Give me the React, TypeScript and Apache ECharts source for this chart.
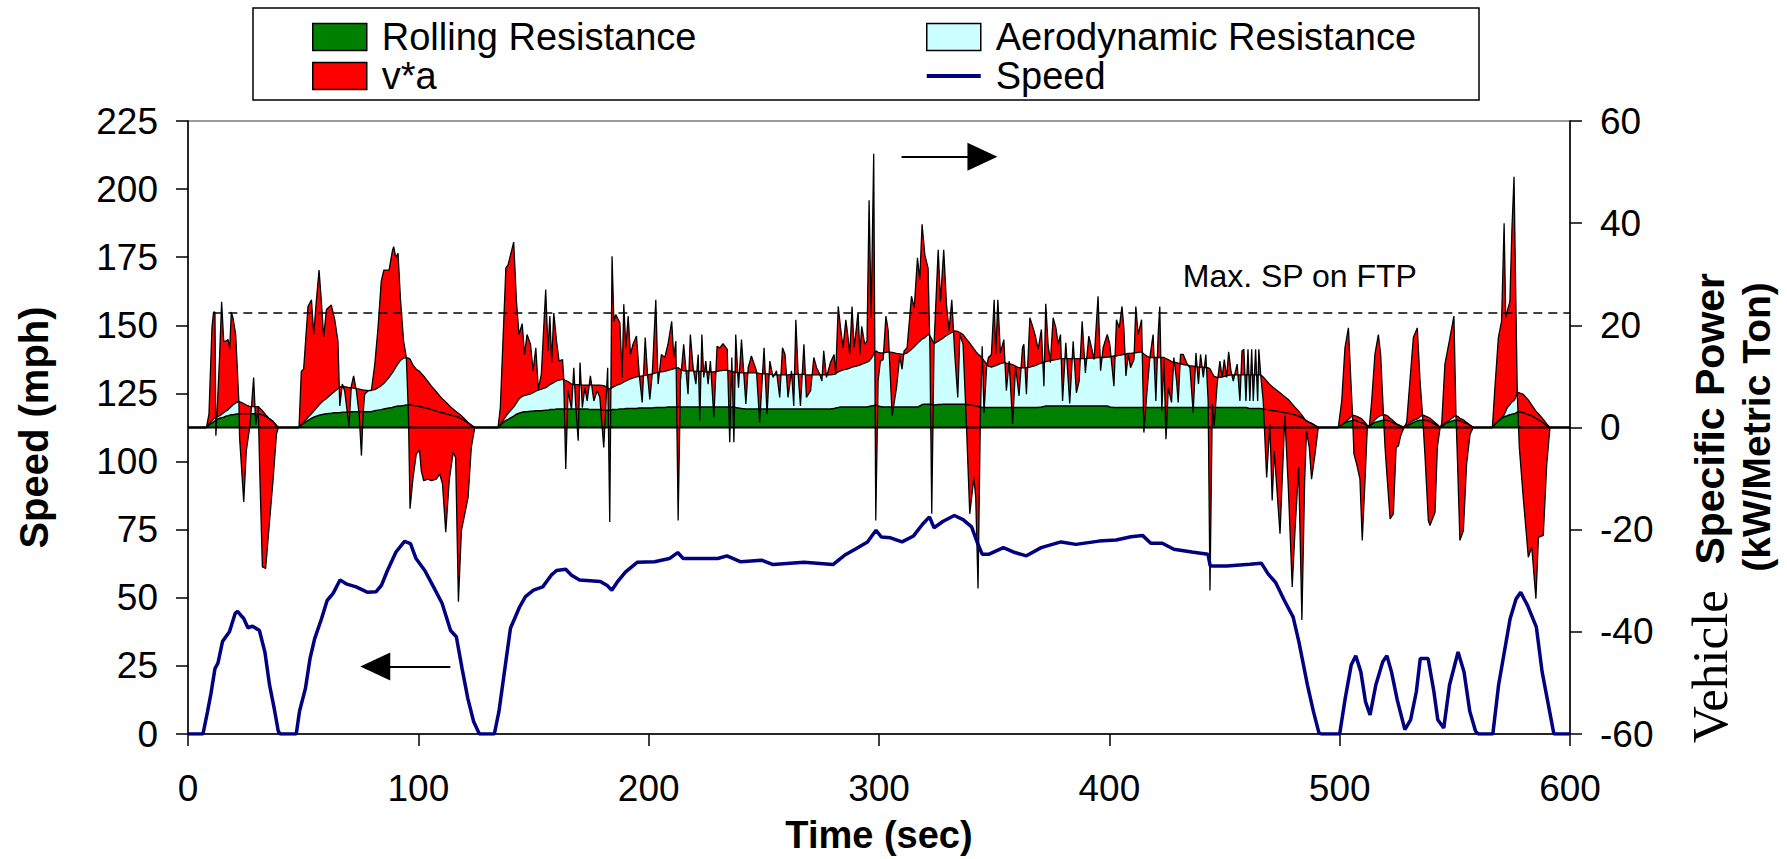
import React, { useEffect, useRef } from "react";
import * as echarts from "echarts";

// ---- Speed trace (mph) ----
const speedTime = [
  0, 6.5, 8.5, 10, 11.7, 13, 15, 18, 20.5, 21.5,
  23, 24.2, 26, 28, 31, 33.4, 35.4, 37.4, 39.2, 40,
  47, 48.4, 51, 53, 55, 58, 60.4, 63, 66, 69,
  73, 78, 81.6, 84, 86.6, 90.3, 94, 96.6, 99, 102.8,
  106.6, 110.3, 114, 116.5, 119, 121.5, 124, 126.5, 133, 135,
  137.8, 140, 144, 146.5, 150, 154, 157.7, 160, 164, 166.5,
  170, 179, 182, 184, 186.4, 190, 195, 202.6, 209, 212.6,
  215, 230, 234, 240, 249, 254, 267.5, 280, 285, 290,
  295, 298.7, 301, 305, 310, 315, 318.9, 321.9, 323.9, 327.7,
  332.7, 336.5, 340.2, 342.7, 344.8, 347.8, 354, 359, 364, 370.4,
  379, 385.5, 395.5, 403, 409.4, 414.4, 418, 423, 428, 435.8,
  442.8, 443.8, 451, 461, 466, 469, 472.2, 476, 479.8, 482.3,
  486, 488.6, 491, 492, 500, 502.4, 505, 507, 509.2, 511.2,
  513.2, 515.7, 518.7, 520.5, 522.5, 525, 528.3, 530.8, 533.3, 535,
  538.4, 540.9, 542.6, 545.2, 547.7, 551.4, 554, 556.5, 559, 560.2,
  566.5, 569, 572, 574, 576.6, 578.6, 581.6, 585.4, 587.9, 591.7,
  593, 600,
];
const speedMph = [
  0, 0, 8.3, 15, 24, 26, 34, 37.5, 44.3, 45,
  43.5, 42.4, 39, 39.6, 38, 30, 18, 9.5, 1, 0,
  0, 8.3, 16.8, 27.8, 35, 42.4, 49, 51.6, 56.5, 55,
  54, 52, 52.2, 54.6, 60, 66.8, 70.7, 69.9, 64.4, 60,
  54, 48, 38, 35.7, 24, 13, 4.6, 0, 0, 8.3,
  25.4, 38.8, 46.7, 50.4, 52.8, 54, 58.3, 60, 60.5, 58.3,
  56.5, 56, 54.5, 52.8, 55.8, 59.5, 63, 63.2, 64.4, 66.6,
  64.4, 64.4, 65.4, 63.2, 63.8, 62.2, 63, 62.2, 65.6, 68,
  70.5, 74.8, 72.3, 72, 70.5, 72.7, 77, 79.7, 75.7, 78,
  80.2, 78.7, 76, 70.2, 66, 66, 68.4, 66.6, 65.4, 68.4,
  70.5, 69.6, 70.8, 71.2, 72.4, 72.9, 70, 70, 67.8, 66.8,
  66, 61.7, 61.7, 62.3, 62.7, 58.7, 55.6, 49, 42.9, 33.8,
  18, 8.3, 0.4, 0, 0, 13, 25.3, 28.7, 22.8, 11.9,
  7, 18, 26.5, 28.7, 22.8, 12.5, 1.6, 5.2, 15.6, 27.7,
  27.7, 15.6, 5.2, 2.2, 18, 30.1, 22.8, 8.3, 1, 0,
  0, 18, 32.6, 42.3, 49.6, 52, 47.1, 39.2, 22.8, 5.8,
  0, 0,
];

// ---- Vehicle specific power (kW/metric ton) ----
const vspTime = [
  0, 8, 9.1, 10.4, 11.1, 11.7, 12.1, 12.6, 13.75, 14.6,
  15.5, 16.4, 17.4, 18.1, 18.8, 19.5, 20.7, 22.1, 22.4, 24.2,
  25.3, 27, 28.5, 29.4, 30.5, 31.1, 32.3, 33.7, 35.2, 36.9,
  38.4, 39.2, 48.2, 49.2, 50.2, 52.1, 53.6, 54.6, 55.7, 56.9,
  57.9, 58.9, 60.1, 62.2, 63.7, 65.1, 65.9, 67, 68, 69.9,
  70.9, 71.9, 73.1, 74.3, 75.3, 76, 76.7, 78.2, 79.6, 81.1,
  82.5, 83.9, 85, 87.3, 88.7, 89.3, 90.2, 91.2, 92.2, 93.6,
  94.8, 95.7, 96.4, 97.7, 99.1, 100.5, 101.3, 102.3, 104.2, 105.7,
  107.8, 109.3, 110.5, 111.9, 113.4, 115.1, 116.2, 117.4, 118.7, 121.6,
  123, 124.5, 134.6, 135.6, 138, 139, 141.4, 142.6, 143.7, 145.1,
  146.1, 147.2, 148.7, 149.8, 151, 152.1, 153.4, 155.3, 156.3, 157.1,
  157.9, 158.8, 160, 161.1, 162.6, 163.1, 164, 165, 166.5, 167.5,
  168.3, 169.4, 170.2, 171.2, 172.3, 173.3, 174.7, 176.2, 177.6, 178.8,
  180.5, 182.2, 183.1, 184.1, 184.9, 185.7, 187.5, 188.5, 189.2, 190.1,
  191.1, 192.1, 193.2, 194.7, 195.9, 197.2, 198.5, 199.5, 200.5, 201.6,
  203.1, 204.1, 205.5, 207, 208.4, 210, 210.9, 211.8, 212.8, 213.8,
  215.2, 217.1, 218.1, 219.3, 220.5, 221.5, 222.2, 223.1, 223.9, 224.8,
  225.8, 226.8, 228.3, 229.7, 230.9, 232.3, 234.1, 235.2, 236.1, 237,
  237.8, 239, 240.3, 242.2, 243.2, 244.6, 246.8, 248.2, 250.1, 251.4,
  252.6, 254, 255.5, 256.9, 258.1, 259.2, 260.5, 262, 263, 263.9,
  264.9, 265.9, 267.4, 268.5, 270.3, 271.7, 272.9, 274.3, 275.2, 276,
  277.2, 278.9, 280.5, 281.2, 282.3, 283.3, 284.4, 285.6, 286.5, 287.3,
  288.3, 289.2, 290.2, 290.9, 291.7, 292.5, 293.8, 294.8, 295.7, 296.6,
  297.7, 298.6, 299.6, 300.6, 301.8, 303, 304, 305.7, 307.6, 309,
  310, 310.9, 312.2, 314.1, 315.3, 316.7, 317.7, 318.7, 319.9, 321.3,
  322.1, 322.9, 323.9, 325.7, 326.7, 328.1, 329.3, 330.4, 331.6, 332.9,
  334.2, 335.1, 336.5, 338, 339.4, 341.2, 342, 343, 344, 344.8,
  345.6, 346.7, 347.5, 348.8, 350, 350.7, 351.6, 352.7, 354.2, 355.3,
  356.5, 358, 359.3, 360.8, 362.3, 362.9, 364, 365.5, 366.9, 367.9,
  369.1, 370.5, 371.6, 372.4, 373.4, 374.4, 375.6, 376.8, 377.8, 378.8,
  379.7, 381.1, 382.8, 384.3, 385.7, 386.9, 388.2, 389.6, 391.1, 392.3,
  393.4, 395.1, 396.2, 397.3, 399.1, 400.2, 402, 403.1, 404.3, 405.5,
  406.3, 407.2, 408.2, 409.2, 410.7, 411.5, 412.5, 414, 415, 416.2,
  417.6, 419, 420.2, 421.2, 421.9, 422.8, 423.7, 424.6, 425.6, 427,
  428, 429.2, 429.9, 430.9, 432.1, 433.8, 435, 436.4, 437.6, 438.7,
  439.6, 440.8, 441.9, 442.9, 443.7, 444.7, 445.5, 446.8, 448, 449,
  449.9, 450.9, 451.8, 452.8, 453.8, 455.5, 456.7, 457.6, 458.4, 459.3,
  460.2, 461, 461.8, 462.5, 463.5, 464.4, 464.9, 465.7, 466.8, 468.3,
  469.7, 470.7, 471.6, 474.1, 476.2, 477.7, 479.4, 480.6, 482.2, 483.6,
  484.8, 485.6, 486.8, 487.8, 489.3, 490.7, 499.4, 500.9, 502.3, 503.8,
  504.8, 505.6, 506.2, 507.4, 508.8, 509.8, 511, 512, 512.9, 513.9,
  515.3, 516.8, 517.8, 519, 519.7, 520.7, 521.9, 523.3, 524.5, 525.5,
  526.5, 527.9, 529.1, 530.5, 532, 533.7, 534.9, 536, 537, 538.5,
  539.2, 541.4, 542.4, 543.6, 544.3, 545.7, 547.6, 549.6, 550.5, 551.2,
  552.2, 553.7, 555.1, 556.6, 558, 566.3, 567.4, 568.9, 570.3, 571.4,
  572.1, 572.8, 573.9, 574.8, 575.7, 576.4, 577.1, 578, 579.7, 581.9,
  583.4, 585.2, 586.3, 588.4, 589.9, 591.3, 600,
];
// top of the rolling-resistance band
const rollingTop = [
  0, 0, 0.5, 0.9, 1.1, 1.3, 1.5, 1.6, 1.8, 1.9,
  2.0, 2.2, 2.3, 2.4, 2.5, 2.5, 2.6, 2.7, 2.7, 2.7,
  2.7, 2.7, 2.7, 2.7, 2.7, 2.6, 2.5, 2.2, 1.7, 1.2,
  0.4, 0, 0, 0.5, 0.8, 1.4, 1.8, 2.0, 2.2, 2.4,
  2.5, 2.6, 2.7, 2.8, 2.9, 2.9, 2.9, 3.0, 3.0, 3.0,
  3.1, 3.1, 3.1, 3.1, 3.1, 3.1, 3.1, 3.1, 3.1, 3.3,
  3.4, 3.5, 3.6, 3.8, 3.9, 4.0, 4.1, 4.2, 4.2, 4.3,
  4.4, 4.4, 4.4, 4.3, 4.2, 4.1, 4.0, 3.9, 3.7, 3.5,
  3.2, 3.0, 2.9, 2.7, 2.5, 2.3, 2.2, 2.0, 1.7, 0.9,
  0.4, 0, 0, 0.5, 1.4, 1.6, 2.2, 2.6, 2.8, 3.0,
  3.1, 3.1, 3.2, 3.2, 3.3, 3.3, 3.3, 3.4, 3.4, 3.5,
  3.5, 3.5, 3.6, 3.6, 3.6, 3.6, 3.6, 3.6, 3.6, 3.6,
  3.6, 3.6, 3.6, 3.6, 3.6, 3.6, 3.5, 3.5, 3.5, 3.5,
  3.4, 3.4, 3.4, 3.5, 3.5, 3.5, 3.6, 3.6, 3.6, 3.7,
  3.7, 3.7, 3.7, 3.7, 3.8, 3.8, 3.8, 3.8, 3.8, 3.8,
  3.9, 3.9, 3.9, 3.9, 4.0, 4.0, 4.0, 4.0, 4.0, 4.0,
  4.0, 4.0, 4.0, 4.0, 4.0, 4.0, 4.0, 4.0, 4.0, 4.0,
  4.0, 4.0, 4.0, 4.0, 4.0, 4.0, 4.0, 4.0, 4.0, 4.0,
  3.9, 3.8, 3.7, 3.6, 3.6, 3.6, 3.6, 3.6, 3.6, 3.6,
  3.6, 3.6, 3.6, 3.6, 3.6, 3.6, 3.6, 3.6, 3.6, 3.6,
  3.6, 3.6, 3.6, 3.6, 3.6, 3.6, 3.6, 3.6, 3.6, 3.6,
  3.6, 3.6, 3.7, 3.8, 3.9, 4.0, 4.0, 4.0, 4.0, 4.0,
  4.0, 4.0, 4.0, 4.0, 4.0, 4.0, 4.0, 4.0, 4.1, 4.2,
  4.3, 4.4, 4.2, 4.1, 4.0, 4.0, 4.0, 4.0, 4.0, 4.0,
  4.0, 4.0, 4.0, 4.0, 4.0, 4.0, 4.2, 4.5, 4.55, 4.55,
  4.55, 4.5, 4.4, 4.5, 4.5, 4.55, 4.55, 4.55, 4.55, 4.55,
  4.55, 4.55, 4.55, 4.5, 4.4, 4.3, 4.2, 4.1, 4.0, 3.9,
  3.9, 3.9, 3.9, 3.9, 3.9, 3.9, 3.9, 3.9, 3.9, 3.9,
  3.9, 3.9, 3.9, 3.9, 3.9, 3.9, 3.9, 3.9, 3.9, 3.9,
  3.9, 4.0, 4.1, 4.2, 4.2, 4.2, 4.2, 4.2, 4.2, 4.2,
  4.2, 4.2, 4.2, 4.2, 4.2, 4.2, 4.2, 4.2, 4.2, 4.2,
  4.2, 4.2, 4.2, 4.2, 4.2, 4.0, 3.9, 3.9, 3.9, 3.9,
  3.9, 3.9, 3.9, 3.9, 3.9, 3.9, 3.9, 3.9, 3.9, 3.9,
  3.9, 3.9, 3.9, 3.9, 3.9, 3.9, 3.9, 3.9, 3.9, 3.9,
  3.9, 3.9, 3.9, 3.9, 3.9, 3.9, 3.9, 3.9, 3.9, 3.9,
  3.9, 3.9, 3.9, 3.9, 3.9, 3.9, 3.9, 3.9, 3.9, 3.9,
  3.9, 3.9, 3.9, 3.9, 3.9, 3.9, 3.9, 3.9, 3.9, 3.9,
  3.8, 3.7, 3.7, 3.7, 3.7, 3.7, 3.7, 3.7, 3.6, 3.5,
  3.4, 3.3, 3.3, 3.1, 2.9, 2.8, 2.6, 2.5, 2.2, 1.9,
  1.6, 1.3, 1.0, 0.8, 0.4, 0, 0, 0.5, 0.9, 1.2,
  1.3, 1.4, 1.4, 1.3, 1.0, 0.9, 0.6, 0.3, 0.3, 0.6,
  1.0, 1.2, 1.3, 1.4, 1.4, 1.4, 1.2, 0.9, 0.6, 0.5,
  0.3, 0, 0.3, 0.6, 1.0, 1.3, 1.4, 1.4, 1.4, 1.3,
  1.2, 0.6, 0.4, 0, 0.2, 0.7, 1.1, 1.4, 1.4, 1.4,
  1.3, 1.0, 0.8, 0.4, 0, 0, 0.6, 1.3, 1.8, 2.1,
  2.2, 2.3, 2.5, 2.6, 2.7, 2.8, 3.0, 3.1, 2.9, 2.5,
  2.3, 1.8, 1.5, 0.9, 0.3, 0, 0,
];
// top of the aerodynamic band (rolling + aerodynamic)
const aeroTop = [
  0, 0, 0.8, 1.3, 1.7, 1.9, 2.0, 2.1, 2.3, 2.6,
  2.9, 3.2, 3.5, 3.8, 4.1, 4.4, 4.8, 5.1, 5.1, 4.7,
  4.4, 4.1, 4.1, 4.1, 4.1, 3.8, 3.3, 2.5, 1.8, 1.2,
  0.4, 0, 0, 0.6, 1.0, 2.0, 2.7, 3.2, 3.8, 4.4,
  4.9, 5.3, 5.7, 6.5, 7.1, 7.6, 7.9, 8.1, 8.0, 7.8,
  7.8, 7.7, 7.6, 7.5, 7.4, 7.3, 7.3, 7.2, 7.3, 7.4,
  7.8, 8.2, 8.6, 9.8, 10.7, 11.1, 11.8, 12.5, 13.1, 13.6,
  13.7, 13.6, 13.4, 12.2, 11.4, 11.0, 10.6, 10.1, 9.0, 8.1,
  7.0, 6.2, 5.6, 5.0, 4.3, 3.6, 3.2, 2.8, 2.3, 1.0,
  0.5, 0, 0, 0.6, 2.2, 2.8, 4.0, 4.8, 5.6, 6.1,
  6.3, 6.4, 6.6, 6.8, 7.1, 7.3, 7.5, 7.8, 8.1, 8.4,
  8.6, 8.8, 9.1, 9.3, 9.4, 9.4, 9.2, 9.0, 8.5, 8.4,
  8.4, 8.4, 8.4, 8.3, 8.3, 8.3, 8.3, 8.3, 8.3, 8.3,
  8.2, 7.8, 7.5, 7.8, 8.0, 8.2, 8.5, 8.7, 8.9, 9.1,
  9.3, 9.5, 9.7, 9.9, 10.0, 10.1, 10.2, 10.3, 10.4, 10.5,
  10.7, 10.8, 10.9, 11.0, 11.2, 11.4, 11.5, 11.6, 11.7, 11.4,
  11.1, 11.1, 11.1, 11.1, 11.0, 11.0, 11.0, 11.0, 11.0, 10.9,
  10.9, 10.9, 10.9, 11.0, 11.1, 11.2, 11.2, 11.1, 11.0, 10.9,
  10.8, 10.7, 10.7, 10.7, 10.7, 10.7, 10.7, 10.6, 10.5, 10.5,
  10.4, 10.3, 10.3, 10.3, 10.3, 10.3, 10.3, 10.4, 10.4, 10.4,
  10.4, 10.4, 10.4, 10.3, 10.3, 10.3, 10.3, 10.3, 10.3, 10.3,
  10.3, 10.3, 10.4, 10.6, 10.9, 11.1, 11.3, 11.4, 11.5, 11.6,
  11.8, 11.9, 12.0, 12.1, 12.2, 12.4, 12.6, 12.8, 13.0, 13.5,
  14.3, 15.0, 14.7, 14.6, 14.6, 14.7, 14.8, 14.7, 14.5, 14.4,
  14.3, 14.4, 14.6, 15.3, 15.8, 16.5, 16.9, 17.3, 17.6, 18.2,
  18.0, 17.3, 16.4, 16.9, 17.2, 17.6, 18.0, 18.3, 18.6, 18.9,
  18.8, 18.6, 18.2, 17.3, 16.5, 15.4, 14.9, 14.4, 14.0, 13.6,
  13.1, 12.5, 12.0, 11.8, 12.0, 12.1, 12.3, 12.5, 12.7, 12.6,
  12.5, 12.3, 12.0, 11.7, 11.7, 11.7, 11.7, 11.8, 12.0, 12.1,
  12.4, 12.6, 12.8, 12.9, 13.0, 13.1, 13.2, 13.3, 13.4, 13.5,
  13.5, 13.5, 13.5, 13.5, 13.5, 13.5, 13.5, 13.5, 13.6, 13.6,
  13.6, 13.7, 13.7, 13.7, 13.8, 13.8, 14.0, 14.0, 14.1, 14.2,
  14.3, 14.4, 14.5, 14.5, 14.6, 14.6, 14.7, 14.8, 14.4, 14.0,
  13.7, 13.7, 13.7, 13.7, 13.7, 13.7, 13.7, 13.5, 13.3, 12.9,
  12.8, 12.7, 12.6, 12.5, 12.3, 12.2, 12.1, 12.0, 11.9, 11.8,
  11.8, 11.8, 11.7, 11.7, 11.5, 10.6, 10.0, 9.8, 9.8, 9.9,
  10.0, 10.1, 10.2, 10.3, 10.3, 10.3, 10.3, 10.3, 10.3, 10.3,
  10.3, 10.3, 10.3, 10.3, 10.3, 10.3, 10.3, 10.3, 9.9, 9.1,
  8.4, 8.0, 7.7, 6.8, 6.0, 5.5, 4.6, 4.0, 3.2, 2.4,
  1.7, 1.3, 1.0, 0.8, 0.4, 0, 0, 0.5, 1.0, 1.6,
  2.0, 2.3, 2.4, 2.2, 1.9, 1.6, 1.0, 0.4, 0.3, 0.7,
  1.5, 2.1, 2.3, 2.5, 2.5, 2.3, 1.8, 1.3, 0.8, 0.5,
  0.3, 0, 0.4, 1.0, 1.4, 1.7, 2.1, 2.4, 2.3, 2.0,
  1.8, 1.0, 0.6, 0, 0.2, 0.9, 1.4, 2.1, 2.3, 2.2,
  1.8, 1.5, 1.0, 0.5, 0, 0, 0.7, 1.4, 1.9, 2.5,
  3.2, 3.9, 4.5, 5.0, 5.3, 5.8, 6.8, 6.8, 6.5, 5.4,
  4.4, 3.2, 2.7, 1.6, 0.7, 0, 0,
];
// total vehicle specific power (top of the v*a band)
const vspTotal = [
  0, 0, 2.6, 19.5, 22.6, 22.6, -1.6, 2.6, 14.3, 24.6,
  16.9, 16.9, 17.2, 15.3, 22.6, 21.5, 18.2, 4.9, -2, -14.6,
  -4.6, 0.7, 9.8, 0.6, 4.1, -7.8, -27.3, -27.6, -19.5, -10.4,
  -1.3, 0, 0, 11, 11.4, 23.7, 25, 18.2, 24.7, 30.8,
  24.7, 17.7, 23.1, 24, 21.1, 16.9, 4.2, 8.5, 7.2, 0.3,
  8.1, 10.1, 7.2, 2.6, -5.5, 2.6, 6.5, 7.2, 7.2, 12.4,
  19.5, 28.6, 30.8, 30.8, 34.5, 35.4, 33.3, 34.1, 25.4, 16.9,
  13.7, 2.6, -15.9, -9.8, -5.2, -4.4, -8.5, -10.4, -10.1, -10.4,
  -10.1, -9.1, -11.1, -20.5, -10.4, -4.9, -5.9, -34.1, -20.2, -13.7,
  -3.9, 0, 0, 3.9, 31.2, 31.9, 36.3, 24.7, 18.2, 20.3,
  14.3, 18.2, 16.3, 11.1, 15.6, 7.5, 10.4, 27, 15, 21.8,
  12.7, 22.4, 16.9, 13, 13.3, 9.8, -8.1, 7.2, 3.6, 11.7,
  4.6, -2.6, 12.7, 3.9, 7.8, 5.2, 10.1, 5.2, 7.2, 5.9,
  -3.9, 11.7, -18.5, 33.5, 20.8, 22.1, 20.5, 9.8, 24.1, 15.6,
  21.8, 14.3, 16.3, 17.9, 10.4, 4.9, 17.6, 10.4, 5.5, 10.7,
  25, 8.5, 14.3, 13.7, 16.3, 20.8, 13.7, 16.9, -18.2, 9.1,
  16.3, 6.5, 18.2, 11.7, 8.5, 14.3, 1.3, 18.2, 9.8, 13,
  8.5, 13, 2, 15.9, 15.6, 16.4, 15.3, -2.9, 13.7, -2.9,
  18.2, 7.8, 17.2, 4.6, 11.7, 14, 11.1, 1, 15.6, 2.6,
  13, 9.8, 11.1, 5.9, 15.6, 14.3, 5.9, 11.1, 4.2, 21.1,
  10.4, 4.2, 16.3, 5.9, 7.2, 13.7, 11.7, 10.4, 9.1, 15,
  9.8, 12.7, 14.3, 10.4, 23.7, 19.5, 15.6, 21.1, 17.9, 14.3,
  23.7, 15.6, 19.5, 22.6, 14.3, 19.8, 16.3, 16.9, 44.5, 21.5,
  53.6, -18.2, 9.1, 13, 13.3, 21.8, 18.9, 2.3, 7.8, 14,
  11.4, 15, 15.6, 25.7, 23.4, 33.2, 28.9, 39.8, 33.8, 31.2,
  15.6, -16.9, 16.3, 34.8, 24.7, 34.8, 24.1, 18.9, 25, 14.3,
  5.9, 18.2, 16.3, 0, -16.9, -9.8, -13.7, -31.5, 2, 15.9,
  2.9, 11.7, 13.7, 14.3, 25, 14.3, 25, 14.6, 17.2, 7.2,
  13, 0.7, 12, 6.2, 15.6, 16.3, 6.5, 21.5, 19.5, 17.9,
  15.3, 19.2, 8.1, 24.2, 16.3, 12.7, 21.5, 19.5, 16.3, 18.2,
  5.2, 16.6, 4.7, 16.9, 6.8, 9.1, 20.8, 10.7, 17.9, 15.6,
  13.3, 25.7, 11.1, 15.6, 18.2, 16.3, 8.1, 21.1, 19.5, 23.7,
  19.5, 10.1, 14.3, 11.7, 13.3, 23.7, 18.2, 21.1, -1, 6.2,
  13.7, 18.2, 5.2, 18.2, 23.7, 3.3, 13.3, -2.3, 7.8, 4.9,
  13.7, 9.1, 4.9, 14.3, 14.3, 12.4, 11.7, 2.9, 14.6, 8.5,
  14.3, 9.8, 14.3, 5.2, -31.9, 4.6, 0.3, 8.5, 13, 9.8,
  13.3, 9.8, 14.8, 11.1, 9.1, 12.4, 5.2, 15, 15.3, 5.2,
  15.3, 5.2, 15.3, 5.2, 15.3, 5.2, 15.3, 10.4, 5.2, -9.8,
  0.7, -14.3, -4.6, -20.8, 2.3, -11.7, -31.2, -20.2, -7.8, -37.7,
  -10.4, -0.7, -3.9, -10.1, -5.2, 0, 0, 5.2, 15.6, 19.5,
  9.8, 2.3, -5.2, -7.2, -10.1, -22.1, -10.4, 0, 0.3, 5.2,
  14.3, 18.2, 14.3, 2.6, -3.9, -10.4, -17.9, -16.9, -3.9, -3.6,
  -1.6, 0, 1, 9.1, 17.6, 19.5, 9.1, 2.3, -5.2, -18.2,
  -19.2, -16.6, -3.9, 0, 0.7, 12.4, 16.9, 21.8, 2.3, -7.2,
  -22.1, -20.2, -7.2, -1.3, 0, 0, 7.8, 17.6, 20.8, 40,
  21.5, 22.8, 24.7, 39, 49.1, 27.3, 6.8, -3.9, -13.7, -25.4,
  -23.4, -33.5, -21.5, -21.1, -7.2, 0, 0,
];

// annotation values
const maxSpOnFtp = 22.4; // kW/t, dashed reference line
const maxSpStart = 11; // s

const SANS = "'Liberation Sans', Arial, sans-serif";
const SERIF = "'Liberation Serif', 'Times New Roman', serif";

export default function App() {
  const ref = useRef<HTMLDivElement>(null);

  useEffect(() => {
    if (!ref.current) return;
    const chart = echarts.init(ref.current, null, { renderer: "svg" });

    const r2 = (v: number) => Math.round(v * 100) / 100;
    // value first, time second (encode y:0, x:1) so that ECharts stacks the VSP values, not the times
    const rollingData = vspTime.map((t, i) => [rollingTop[i], t]);
    const aeroData = vspTime.map((t, i) => [r2(aeroTop[i] - rollingTop[i]), t]);
    const vaData = vspTime.map((t, i) => [r2(vspTotal[i] - aeroTop[i]), t]);
    const speedData = speedTime.map((t, i) => [t, speedMph[i]]);

    const axisLine = { show: true, onZero: false, lineStyle: { color: "#000", width: 1.5 } };
    const axisTick = { show: true, inside: false, length: 12, lineStyle: { color: "#000", width: 1.5 } };
    const labelStyle = { fontSize: 37, color: "#000", fontFamily: SANS };

    const legendText = {
      fontSize: 38,
      lineHeight: 37,
      color: "#000",
      fontFamily: SANS,
      padding: [0, 0, 0, 10],
    };
    const legendBase = {
      top: 18,
      orient: "vertical",
      padding: 0,
      itemWidth: 54,
      itemHeight: 27,
      itemGap: 1,
      selectedMode: false,
      textStyle: legendText,
    };

    const stackedCommon = {
      type: "line",
      yAxisIndex: 1,
      stack: "vsp",
      stackStrategy: "all",
      encode: { x: 1, y: 0 },
      symbol: "none",
      silent: true,
    };

    const option: any = {
      animation: false,
      backgroundColor: "#fff",
      textStyle: { fontFamily: SANS },
      grid: {
        left: 188,
        right: 217,
        top: 121,
        bottom: 123,
        show: true,
        borderColor: "#9a9a9a",
        borderWidth: 2,
        backgroundColor: "transparent",
      },
      legend: [
        {
          ...legendBase,
          left: 312,
          data: [
            { name: "Rolling Resistance", icon: "rect", itemStyle: { color: "#008000", borderColor: "#000", borderWidth: 1.5 } },
            { name: "v*a", icon: "rect", itemStyle: { color: "#ff0000", borderColor: "#000", borderWidth: 1.5 } },
          ],
        },
        {
          ...legendBase,
          left: 926,
          data: [
            { name: "Aerodynamic Resistance", icon: "rect", itemStyle: { color: "#ccffff", borderColor: "#000", borderWidth: 1.5 } },
            { name: "Speed", icon: "path://M0,0H54V4H0Z", itemStyle: { color: "#000080", borderWidth: 0 } },
          ],
        },
      ],
      xAxis: {
        type: "value",
        min: 0,
        max: 600,
        interval: 100,
        name: "Time (sec)",
        nameLocation: "middle",
        nameGap: 82,
        nameTextStyle: { fontSize: 38, fontWeight: "bold", color: "#000", fontFamily: SANS },
        axisLine,
        axisTick,
        axisLabel: { ...labelStyle, margin: 36 },
        splitLine: { show: false },
      },
      yAxis: [
        {
          type: "value",
          min: 0,
          max: 225,
          interval: 25,
          position: "left",
          name: "Speed (mph)",
          nameLocation: "middle",
          nameRotate: 90,
          nameGap: 134,
          nameTextStyle: { fontSize: 40, fontWeight: "bold", color: "#000", fontFamily: SANS },
          axisLine,
          axisTick,
          axisLabel: { ...labelStyle, margin: 30 },
          splitLine: { show: false },
        },
        {
          type: "value",
          min: -60,
          max: 60,
          interval: 20,
          position: "right",
          axisLine,
          axisTick,
          axisLabel: { ...labelStyle, margin: 30 },
          splitLine: { show: false },
        },
      ],
      graphic: [
        {
          type: "rect",
          shape: { x: 253, y: 8, width: 1226, height: 92 },
          style: { fill: "none", stroke: "#000", lineWidth: 1.5 },
          silent: true,
        },
        {
          type: "text",
          x: 1710,
          y: 508,
          rotation: Math.PI / 2,
          silent: true,
          style: {
            text: "{v|Vehicle\u00a0\u00a0}{b|Specific Power}",
            align: "center",
            verticalAlign: "middle",
            fill: "#000",
            rich: {
              v: { fontFamily: SERIF, fontSize: 51, fill: "#000" },
              b: { fontFamily: SANS, fontWeight: "bold", fontSize: 41, fill: "#000" },
            },
          },
        },
        {
          type: "text",
          x: 1756,
          y: 427,
          rotation: Math.PI / 2,
          silent: true,
          style: {
            text: "(kW/Metric Ton)",
            fontFamily: SANS,
            fontWeight: "bold",
            fontSize: 39,
            fill: "#000",
            align: "center",
            verticalAlign: "middle",
          },
        },
      ],
      series: [
        {
          name: "baseline",
          type: "line",
          xAxisIndex: 0,
          yAxisIndex: 1,
          data: [
            [0, 0],
            [600, 0],
          ],
          symbol: "none",
          silent: true,
          lineStyle: { color: "#000", width: 2 },
        },
        {
          ...stackedCommon,
          name: "Rolling Resistance",
          data: rollingData,
          lineStyle: { color: "#000", width: 1.5 },
          itemStyle: { color: "#008000" },
          areaStyle: { color: "#008000", opacity: 1 },
        },
        {
          ...stackedCommon,
          name: "Aerodynamic Resistance",
          data: aeroData,
          lineStyle: { color: "#000", width: 1.3 },
          itemStyle: { color: "#ccffff" },
          areaStyle: { color: "#ccffff", opacity: 1 },
        },
        {
          ...stackedCommon,
          name: "v*a",
          data: vaData,
          lineStyle: { color: "#000", width: 1.3 },
          itemStyle: { color: "#ff0000" },
          areaStyle: { color: "#ff0000", opacity: 1 },
        },
        {
          name: "Speed",
          type: "line",
          yAxisIndex: 0,
          data: speedData,
          symbol: "none",
          silent: true,
          lineStyle: { color: "#000080", width: 3.5 },
          itemStyle: { color: "#000080" },
          markLine: {
            silent: true,
            animation: false,
            symbol: ["none", "none"],
            label: { show: false },
            lineStyle: { color: "#000", width: 2, type: "solid" },
            itemStyle: { color: "#000" },
            data: [
              [
                { coord: [113.9, 24.75], symbol: "none" },
                { coord: [81.3, 24.75], symbol: "triangle", symbolSize: [28, 30] },
              ],
            ],
          },
        },
        {
          name: "annotations",
          type: "line",
          yAxisIndex: 1,
          data: [[maxSpStart, maxSpOnFtp]],
          symbol: "none",
          silent: true,
          lineStyle: { width: 0 },
          markLine: {
            silent: true,
            animation: false,
            symbol: ["none", "none"],
            label: { show: false },
            itemStyle: { color: "#000" },
            data: [
              [
                { coord: [maxSpStart, maxSpOnFtp], lineStyle: { color: "#000", width: 1.5, type: [9, 6] } },
                { coord: [600, maxSpOnFtp] },
              ],
              [
                { coord: [309.8, 53], symbol: "none", lineStyle: { color: "#000", width: 2, type: "solid" } },
                { coord: [344.9, 53], symbol: "triangle", symbolSize: [28, 30] },
              ],
            ],
          },
          markPoint: {
            silent: true,
            animation: false,
            symbol: "circle",
            symbolSize: 1,
            itemStyle: { color: "rgba(0,0,0,0)" },
            label: {
              show: true,
              position: "inside",
              formatter: "Max. SP on FTP",
              fontSize: 32,
              color: "#000",
              fontFamily: SANS,
            },
            data: [{ coord: [482.7, 29.6] }],
          },
        },
      ],
    };

    chart.setOption(option);
    return () => chart.dispose();
  }, []);

  return (
    <div
      ref={ref}
      style={{ position: "absolute", left: 0, top: 0, width: 1787, height: 859, background: "#fff" }}
    />
  );
}
